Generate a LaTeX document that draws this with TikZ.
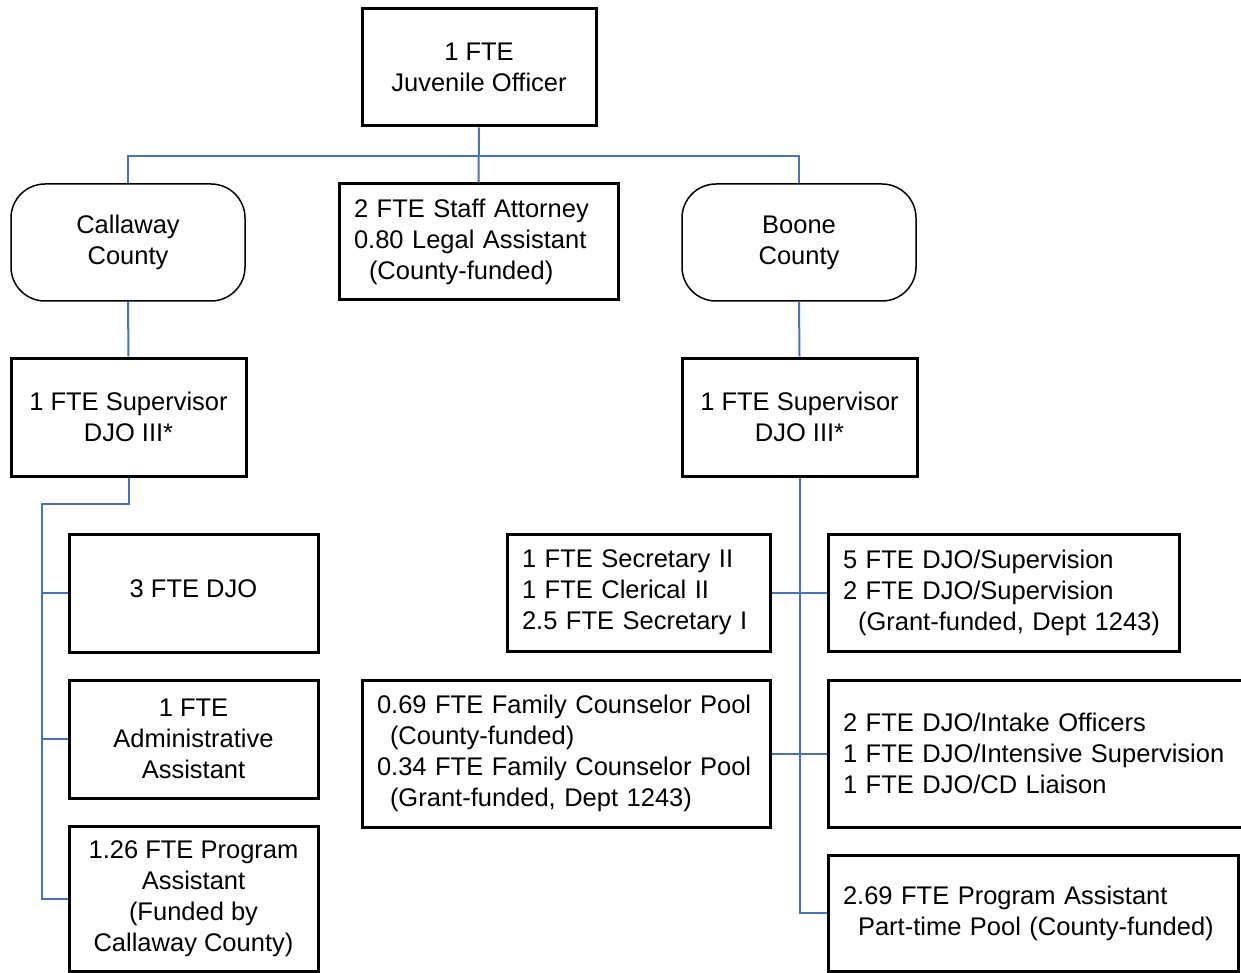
\documentclass[tikz,border=0pt]{standalone}
\usepackage{fontspec}
\setmainfont{Liberation Sans}
\begin{document}
\begin{tikzpicture}[x=1pt,y=-1pt,
  box/.style={draw=black,line width=3pt,line join=miter,fill=white,inner sep=0pt,
    font=\fontsize{25.5}{31}\selectfont,align=center},
  lbox/.style={box,align=left,inner xsep=15pt},
  cbox/.style={draw=black,line width=1.5pt,rounded corners=34pt,fill=white,inner sep=0pt,
    font=\fontsize{25.5}{31}\selectfont,align=center},
  conn/.style={draw={rgb,255:red,68;green,114;blue,196},line width=2pt}]
\useasboundingbox (0,0) rectangle (1241,973);
\clip (0,0) rectangle (1241,973);
% row 1
\node[box,minimum width=234pt,minimum height=117pt] (top) at (479,67.5) {1 FTE\\Juvenile Officer};
% row 2
\node[cbox,minimum width=234pt,minimum height=117pt] (call) at (128,242.5) {Callaway\\County};
\node[lbox,minimum height=116pt,text width=249pt] (staff) at (478.5,242) {2 FTE Staff Attorney\\0.80 Legal Assistant\\\hspace{15pt}(County-funded)};
\node[cbox,minimum width=234pt,minimum height=117pt] (boone) at (799,242.5) {Boone\\County};
% row 3
\node[box,minimum width=235pt,minimum height=118pt] (csup) at (128.5,417) {1 FTE Supervisor\\DJO III*};
\node[box,minimum width=235pt,minimum height=118pt] (bsup) at (799.5,417) {1 FTE Supervisor\\DJO III*};
% Callaway branch
\node[box,minimum width=249pt,minimum height=118pt] (cdjo) at (193.5,593) {\raisebox{9pt}{3 FTE DJO}};
\node[box,minimum width=249pt,minimum height=118pt] (cadm) at (193.5,739) {1 FTE\\Administrative\\Assistant};
\node[box,minimum width=249pt,minimum height=145pt] (cprog) at (193.5,898.5) {1.26 FTE Program\\Assistant\\(Funded by\\Callaway County)};
% Boone branch
\node[lbox,minimum height=117pt,text width=233pt] (bsec) at (638.5,592.5) {1 FTE Secretary II\\1 FTE Clerical II\\2.5 FTE Secretary I};
\node[lbox,minimum height=117pt,text width=321pt] (bdjo) at (1003.5,592.5) {5 FTE DJO/Supervision\\2 FTE DJO/Supervision\\\hspace{15pt}(Grant-funded, Dept 1243)};
\node[lbox,minimum height=147pt,text width=378pt] (bfam) at (566,753.5) {0.69 FTE Family Counselor Pool\\\hspace{13pt}(County-funded)\\0.34 FTE Family Counselor Pool\\\hspace{13pt}(Grant-funded, Dept 1243)};
\node[lbox,minimum height=147pt,text width=402pt] (bint) at (1044,753.5) {2 FTE DJO/Intake Officers\\1 FTE DJO/Intensive Supervision\\1 FTE DJO/CD Liaison};
\node[lbox,minimum height=116pt,text width=380pt] (bprog) at (1033,913) {2.69 FTE Program Assistant\\\hspace{15pt}Part-time Pool (County-funded)};
% connectors
\coordinate (hb) at (479,156);
\coordinate (cs) at (42,504);
\draw[conn] (top.south) -- (staff.north);
\draw[conn] (call.north) |- (hb) -| (boone.north);
\draw[conn] (call.south) -- (csup.north);
\draw[conn] (boone.south) -- (bsup.north);
\draw[conn] (csup.south) |- (cs) |- (cprog.west);
\draw[conn] (cs) |- (cdjo.west);
\draw[conn] (cs) |- (cadm.west);
\draw[conn] (bsup.south) |- (bprog.west);
\draw[conn] (bsec.east) -- (bdjo.west);
\draw[conn] (bfam.east) -- (bint.west);
\end{tikzpicture}
\end{document}
